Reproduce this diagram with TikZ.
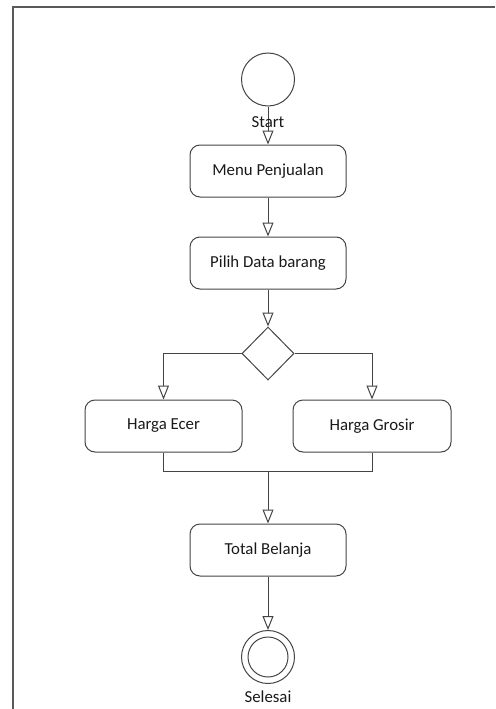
\documentclass[tikz,border=0pt]{standalone}
\usepackage{fontspec}
\setmainfont{Carlito}
\usetikzlibrary{arrows.meta,shapes.geometric}
\definecolor{ln}{HTML}{444444}
\definecolor{fr}{HTML}{5A5A5A}
\begin{document}
\begin{tikzpicture}[x=1pt,y=-1pt,
  act/.style={draw=ln,line width=1pt,rounded corners=10pt,minimum width=156pt,minimum height=52pt,inner sep=0pt,font=\fontsize{16.8}{20}\selectfont,text=black!90},
  lbl/.style={font=\fontsize{16.8}{20}\selectfont,text=black!90,inner sep=0pt},
  flow/.style={draw=ln,line width=1pt,-{Triangle[open,length=14pt,width=11pt]}},
  plain/.style={draw=ln,line width=1pt}]
\useasboundingbox (0,0) rectangle (495,709);
\draw[fr,line width=2pt] (13,709) -- (13,7) -- (495,7);
\node[draw=ln,line width=1pt,circle,minimum size=53pt,inner sep=0pt] (start) at (268,79.5) {};
\node[act] (menu) at (268,171) {Menu Penjualan};
\node[act] (pilih) at (268,263) {Pilih Data barang};
\node[draw=ln,line width=1pt,diamond,minimum width=52pt,minimum height=53pt,inner sep=0pt] (dec) at (268,353.5) {};
\node[act,minimum width=157pt] (ecer) at (163.5,426) {Harga Ecer};
\node[act,minimum width=158pt] (grosir) at (372,426) {Harga Grosir};
\node[act] (total) at (268,550) {Total Belanja};
\node[draw=ln,line width=1pt,circle,minimum size=53pt,inner sep=0pt] (end) at (268,657) {};
\node[draw=ln,line width=1pt,circle,minimum size=40pt,inner sep=0pt] (endin) at (268,657) {};
\coordinate (j) at (268,471);
\draw[flow] (start) -- (menu);
\node[lbl] (slbl) at (268,122) {Start};
\node[lbl] (elbl) at (268,697) {Selesai};
\draw[flow] (menu) -- (pilih);
\draw[flow] (pilih) -- (dec);
\draw[flow] (dec.west) -| (ecer.north);
\draw[flow] (dec.east) -| (grosir.north);
\draw[plain] (ecer.south) |- (j);
\draw[plain] (grosir.south) |- (j);
\draw[flow] (j) -- (total);
\draw[flow] (total) -- (end);
\end{tikzpicture}
\end{document}
